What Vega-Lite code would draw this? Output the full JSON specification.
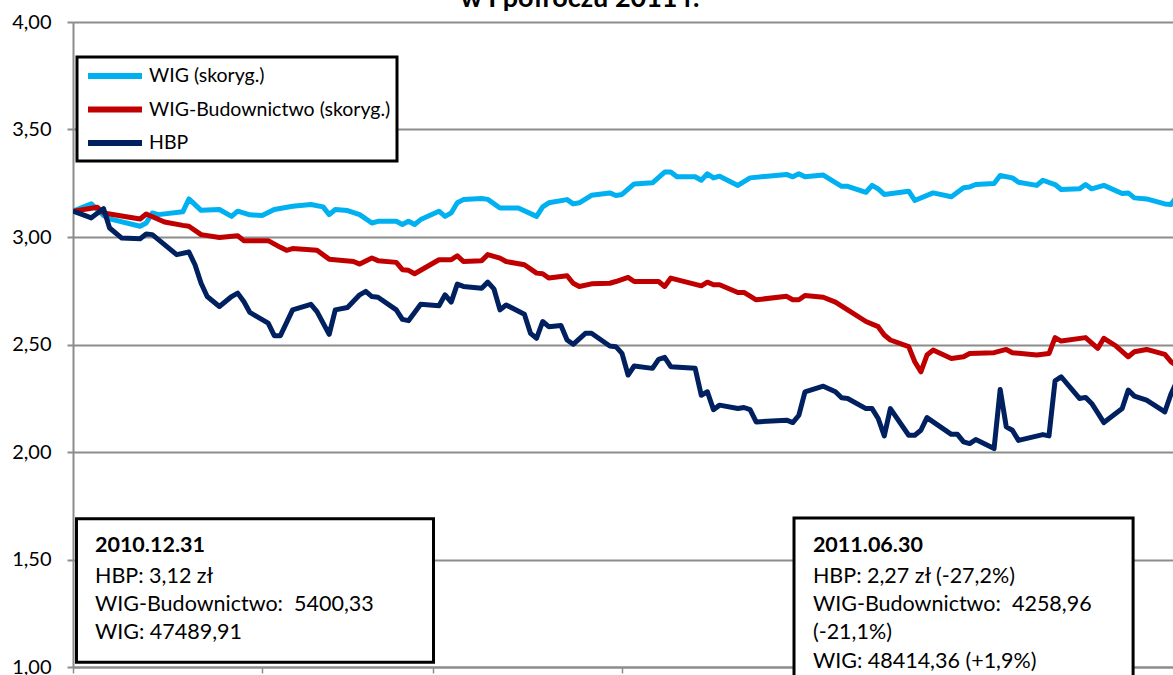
{
  "$schema": "https://vega.github.io/schema/vega-lite/v6.json",
  "width": 1100,
  "height": 645,
  "autosize": {"type": "none"},
  "padding": {"left": 73, "top": 22, "right": 0, "bottom": 8},
  "background": "white",
  "title": {"text": "w I półroczu 2011 r.", "font": "Lato", "fontSize": 27, "fontWeight": "bold", "color": "black", "anchor": "middle", "dx": -43, "offset": -22, "baseline": "alphabetic"},
  "config": {"view": {"stroke": null}, "font": "Lato", "legend": {"strokeWidth": 3}},
  "datasets": {
    "series": [
      {"t":"2010-12-31","s":"WIG (skoryg.)","v":3.12},
      {"t":"2011-01-03","s":"WIG (skoryg.)","v":3.154},
      {"t":"2011-01-05","s":"WIG (skoryg.)","v":3.10},
      {"t":"2011-01-06","s":"WIG (skoryg.)","v":3.084},
      {"t":"2011-01-11","s":"WIG (skoryg.)","v":3.05},
      {"t":"2011-01-12","s":"WIG (skoryg.)","v":3.065},
      {"t":"2011-01-13","s":"WIG (skoryg.)","v":3.112},
      {"t":"2011-01-14","s":"WIG (skoryg.)","v":3.104},
      {"t":"2011-01-18","s":"WIG (skoryg.)","v":3.117},
      {"t":"2011-01-19","s":"WIG (skoryg.)","v":3.177},
      {"t":"2011-01-21","s":"WIG (skoryg.)","v":3.124},
      {"t":"2011-01-24","s":"WIG (skoryg.)","v":3.128},
      {"t":"2011-01-26","s":"WIG (skoryg.)","v":3.096},
      {"t":"2011-01-27","s":"WIG (skoryg.)","v":3.12},
      {"t":"2011-01-29","s":"WIG (skoryg.)","v":3.103},
      {"t":"2011-01-31","s":"WIG (skoryg.)","v":3.10},
      {"t":"2011-02-02","s":"WIG (skoryg.)","v":3.128},
      {"t":"2011-02-05","s":"WIG (skoryg.)","v":3.143},
      {"t":"2011-02-08","s":"WIG (skoryg.)","v":3.151},
      {"t":"2011-02-10","s":"WIG (skoryg.)","v":3.14},
      {"t":"2011-02-11","s":"WIG (skoryg.)","v":3.104},
      {"t":"2011-02-12","s":"WIG (skoryg.)","v":3.128},
      {"t":"2011-02-14","s":"WIG (skoryg.)","v":3.123},
      {"t":"2011-02-16","s":"WIG (skoryg.)","v":3.104},
      {"t":"2011-02-18","s":"WIG (skoryg.)","v":3.065},
      {"t":"2011-02-19","s":"WIG (skoryg.)","v":3.073},
      {"t":"2011-02-22","s":"WIG (skoryg.)","v":3.073},
      {"t":"2011-02-23","s":"WIG (skoryg.)","v":3.058},
      {"t":"2011-02-24","s":"WIG (skoryg.)","v":3.073},
      {"t":"2011-02-25","s":"WIG (skoryg.)","v":3.058},
      {"t":"2011-02-26","s":"WIG (skoryg.)","v":3.081},
      {"t":"2011-03-01","s":"WIG (skoryg.)","v":3.12},
      {"t":"2011-03-02","s":"WIG (skoryg.)","v":3.096},
      {"t":"2011-03-03","s":"WIG (skoryg.)","v":3.112},
      {"t":"2011-03-04","s":"WIG (skoryg.)","v":3.159},
      {"t":"2011-03-05","s":"WIG (skoryg.)","v":3.174},
      {"t":"2011-03-08","s":"WIG (skoryg.)","v":3.179},
      {"t":"2011-03-09","s":"WIG (skoryg.)","v":3.175},
      {"t":"2011-03-11","s":"WIG (skoryg.)","v":3.135},
      {"t":"2011-03-14","s":"WIG (skoryg.)","v":3.135},
      {"t":"2011-03-17","s":"WIG (skoryg.)","v":3.096},
      {"t":"2011-03-18","s":"WIG (skoryg.)","v":3.14},
      {"t":"2011-03-19","s":"WIG (skoryg.)","v":3.159},
      {"t":"2011-03-22","s":"WIG (skoryg.)","v":3.174},
      {"t":"2011-03-23","s":"WIG (skoryg.)","v":3.154},
      {"t":"2011-03-24","s":"WIG (skoryg.)","v":3.159},
      {"t":"2011-03-26","s":"WIG (skoryg.)","v":3.194},
      {"t":"2011-03-29","s":"WIG (skoryg.)","v":3.205},
      {"t":"2011-03-30","s":"WIG (skoryg.)","v":3.193},
      {"t":"2011-03-31","s":"WIG (skoryg.)","v":3.198},
      {"t":"2011-04-02","s":"WIG (skoryg.)","v":3.247},
      {"t":"2011-04-05","s":"WIG (skoryg.)","v":3.252},
      {"t":"2011-04-07","s":"WIG (skoryg.)","v":3.302},
      {"t":"2011-04-08","s":"WIG (skoryg.)","v":3.302},
      {"t":"2011-04-09","s":"WIG (skoryg.)","v":3.28},
      {"t":"2011-04-12","s":"WIG (skoryg.)","v":3.28},
      {"t":"2011-04-13","s":"WIG (skoryg.)","v":3.264},
      {"t":"2011-04-14","s":"WIG (skoryg.)","v":3.294},
      {"t":"2011-04-15","s":"WIG (skoryg.)","v":3.275},
      {"t":"2011-04-16","s":"WIG (skoryg.)","v":3.283},
      {"t":"2011-04-19","s":"WIG (skoryg.)","v":3.24},
      {"t":"2011-04-21","s":"WIG (skoryg.)","v":3.275},
      {"t":"2011-04-27","s":"WIG (skoryg.)","v":3.291},
      {"t":"2011-04-28","s":"WIG (skoryg.)","v":3.28},
      {"t":"2011-04-29","s":"WIG (skoryg.)","v":3.294},
      {"t":"2011-04-30","s":"WIG (skoryg.)","v":3.28},
      {"t":"2011-05-03","s":"WIG (skoryg.)","v":3.288},
      {"t":"2011-05-06","s":"WIG (skoryg.)","v":3.236},
      {"t":"2011-05-07","s":"WIG (skoryg.)","v":3.236},
      {"t":"2011-05-10","s":"WIG (skoryg.)","v":3.208},
      {"t":"2011-05-11","s":"WIG (skoryg.)","v":3.24},
      {"t":"2011-05-12","s":"WIG (skoryg.)","v":3.224},
      {"t":"2011-05-13","s":"WIG (skoryg.)","v":3.198},
      {"t":"2011-05-17","s":"WIG (skoryg.)","v":3.213},
      {"t":"2011-05-18","s":"WIG (skoryg.)","v":3.17},
      {"t":"2011-05-21","s":"WIG (skoryg.)","v":3.205},
      {"t":"2011-05-24","s":"WIG (skoryg.)","v":3.187},
      {"t":"2011-05-26","s":"WIG (skoryg.)","v":3.229},
      {"t":"2011-05-27","s":"WIG (skoryg.)","v":3.233},
      {"t":"2011-05-28","s":"WIG (skoryg.)","v":3.244},
      {"t":"2011-05-31","s":"WIG (skoryg.)","v":3.249},
      {"t":"2011-06-01","s":"WIG (skoryg.)","v":3.286},
      {"t":"2011-06-03","s":"WIG (skoryg.)","v":3.275},
      {"t":"2011-06-04","s":"WIG (skoryg.)","v":3.255},
      {"t":"2011-06-07","s":"WIG (skoryg.)","v":3.24},
      {"t":"2011-06-08","s":"WIG (skoryg.)","v":3.264},
      {"t":"2011-06-10","s":"WIG (skoryg.)","v":3.244},
      {"t":"2011-06-11","s":"WIG (skoryg.)","v":3.221},
      {"t":"2011-06-14","s":"WIG (skoryg.)","v":3.224},
      {"t":"2011-06-15","s":"WIG (skoryg.)","v":3.244},
      {"t":"2011-06-16","s":"WIG (skoryg.)","v":3.224},
      {"t":"2011-06-18","s":"WIG (skoryg.)","v":3.24},
      {"t":"2011-06-21","s":"WIG (skoryg.)","v":3.202},
      {"t":"2011-06-22","s":"WIG (skoryg.)","v":3.205},
      {"t":"2011-06-23","s":"WIG (skoryg.)","v":3.182},
      {"t":"2011-06-25","s":"WIG (skoryg.)","v":3.177},
      {"t":"2011-06-28","s":"WIG (skoryg.)","v":3.154},
      {"t":"2011-06-29","s":"WIG (skoryg.)","v":3.151},
      {"t":"2011-06-30","s":"WIG (skoryg.)","v":3.19},

      {"t":"2010-12-31","s":"WIG-Budownictwo (skoryg.)","v":3.12},
      {"t":"2011-01-04","s":"WIG-Budownictwo (skoryg.)","v":3.138},
      {"t":"2011-01-05","s":"WIG-Budownictwo (skoryg.)","v":3.112},
      {"t":"2011-01-11","s":"WIG-Budownictwo (skoryg.)","v":3.084},
      {"t":"2011-01-12","s":"WIG-Budownictwo (skoryg.)","v":3.107},
      {"t":"2011-01-15","s":"WIG-Budownictwo (skoryg.)","v":3.07},
      {"t":"2011-01-18","s":"WIG-Budownictwo (skoryg.)","v":3.054},
      {"t":"2011-01-19","s":"WIG-Budownictwo (skoryg.)","v":3.05},
      {"t":"2011-01-21","s":"WIG-Budownictwo (skoryg.)","v":3.011},
      {"t":"2011-01-24","s":"WIG-Budownictwo (skoryg.)","v":2.998},
      {"t":"2011-01-27","s":"WIG-Budownictwo (skoryg.)","v":3.006},
      {"t":"2011-01-28","s":"WIG-Budownictwo (skoryg.)","v":2.983},
      {"t":"2011-02-01","s":"WIG-Budownictwo (skoryg.)","v":2.983},
      {"t":"2011-02-03","s":"WIG-Budownictwo (skoryg.)","v":2.952},
      {"t":"2011-02-04","s":"WIG-Budownictwo (skoryg.)","v":2.938},
      {"t":"2011-02-05","s":"WIG-Budownictwo (skoryg.)","v":2.946},
      {"t":"2011-02-09","s":"WIG-Budownictwo (skoryg.)","v":2.938},
      {"t":"2011-02-11","s":"WIG-Budownictwo (skoryg.)","v":2.897},
      {"t":"2011-02-15","s":"WIG-Budownictwo (skoryg.)","v":2.886},
      {"t":"2011-02-16","s":"WIG-Budownictwo (skoryg.)","v":2.874},
      {"t":"2011-02-18","s":"WIG-Budownictwo (skoryg.)","v":2.902},
      {"t":"2011-02-19","s":"WIG-Budownictwo (skoryg.)","v":2.89},
      {"t":"2011-02-22","s":"WIG-Budownictwo (skoryg.)","v":2.882},
      {"t":"2011-02-23","s":"WIG-Budownictwo (skoryg.)","v":2.848},
      {"t":"2011-02-24","s":"WIG-Budownictwo (skoryg.)","v":2.845},
      {"t":"2011-02-25","s":"WIG-Budownictwo (skoryg.)","v":2.829},
      {"t":"2011-03-01","s":"WIG-Budownictwo (skoryg.)","v":2.894},
      {"t":"2011-03-03","s":"WIG-Budownictwo (skoryg.)","v":2.894},
      {"t":"2011-03-04","s":"WIG-Budownictwo (skoryg.)","v":2.913},
      {"t":"2011-03-05","s":"WIG-Budownictwo (skoryg.)","v":2.886},
      {"t":"2011-03-08","s":"WIG-Budownictwo (skoryg.)","v":2.89},
      {"t":"2011-03-09","s":"WIG-Budownictwo (skoryg.)","v":2.918},
      {"t":"2011-03-11","s":"WIG-Budownictwo (skoryg.)","v":2.902},
      {"t":"2011-03-12","s":"WIG-Budownictwo (skoryg.)","v":2.886},
      {"t":"2011-03-15","s":"WIG-Budownictwo (skoryg.)","v":2.871},
      {"t":"2011-03-17","s":"WIG-Budownictwo (skoryg.)","v":2.832},
      {"t":"2011-03-18","s":"WIG-Budownictwo (skoryg.)","v":2.829},
      {"t":"2011-03-19","s":"WIG-Budownictwo (skoryg.)","v":2.809},
      {"t":"2011-03-22","s":"WIG-Budownictwo (skoryg.)","v":2.82},
      {"t":"2011-03-23","s":"WIG-Budownictwo (skoryg.)","v":2.785},
      {"t":"2011-03-24","s":"WIG-Budownictwo (skoryg.)","v":2.77},
      {"t":"2011-03-26","s":"WIG-Budownictwo (skoryg.)","v":2.782},
      {"t":"2011-03-29","s":"WIG-Budownictwo (skoryg.)","v":2.785},
      {"t":"2011-03-30","s":"WIG-Budownictwo (skoryg.)","v":2.793},
      {"t":"2011-04-01","s":"WIG-Budownictwo (skoryg.)","v":2.812},
      {"t":"2011-04-02","s":"WIG-Budownictwo (skoryg.)","v":2.793},
      {"t":"2011-04-06","s":"WIG-Budownictwo (skoryg.)","v":2.793},
      {"t":"2011-04-07","s":"WIG-Budownictwo (skoryg.)","v":2.77},
      {"t":"2011-04-08","s":"WIG-Budownictwo (skoryg.)","v":2.809},
      {"t":"2011-04-13","s":"WIG-Budownictwo (skoryg.)","v":2.773},
      {"t":"2011-04-14","s":"WIG-Budownictwo (skoryg.)","v":2.79},
      {"t":"2011-04-15","s":"WIG-Budownictwo (skoryg.)","v":2.778},
      {"t":"2011-04-16","s":"WIG-Budownictwo (skoryg.)","v":2.778},
      {"t":"2011-04-19","s":"WIG-Budownictwo (skoryg.)","v":2.742},
      {"t":"2011-04-20","s":"WIG-Budownictwo (skoryg.)","v":2.742},
      {"t":"2011-04-22","s":"WIG-Budownictwo (skoryg.)","v":2.708},
      {"t":"2011-04-27","s":"WIG-Budownictwo (skoryg.)","v":2.724},
      {"t":"2011-04-28","s":"WIG-Budownictwo (skoryg.)","v":2.708},
      {"t":"2011-04-29","s":"WIG-Budownictwo (skoryg.)","v":2.708},
      {"t":"2011-04-30","s":"WIG-Budownictwo (skoryg.)","v":2.728},
      {"t":"2011-05-03","s":"WIG-Budownictwo (skoryg.)","v":2.72},
      {"t":"2011-05-05","s":"WIG-Budownictwo (skoryg.)","v":2.697},
      {"t":"2011-05-07","s":"WIG-Budownictwo (skoryg.)","v":2.661},
      {"t":"2011-05-10","s":"WIG-Budownictwo (skoryg.)","v":2.607},
      {"t":"2011-05-12","s":"WIG-Budownictwo (skoryg.)","v":2.583},
      {"t":"2011-05-13","s":"WIG-Budownictwo (skoryg.)","v":2.544},
      {"t":"2011-05-14","s":"WIG-Budownictwo (skoryg.)","v":2.521},
      {"t":"2011-05-17","s":"WIG-Budownictwo (skoryg.)","v":2.49},
      {"t":"2011-05-18","s":"WIG-Budownictwo (skoryg.)","v":2.42},
      {"t":"2011-05-19","s":"WIG-Budownictwo (skoryg.)","v":2.373},
      {"t":"2011-05-20","s":"WIG-Budownictwo (skoryg.)","v":2.451},
      {"t":"2011-05-21","s":"WIG-Budownictwo (skoryg.)","v":2.474},
      {"t":"2011-05-24","s":"WIG-Budownictwo (skoryg.)","v":2.435},
      {"t":"2011-05-26","s":"WIG-Budownictwo (skoryg.)","v":2.443},
      {"t":"2011-05-27","s":"WIG-Budownictwo (skoryg.)","v":2.458},
      {"t":"2011-05-31","s":"WIG-Budownictwo (skoryg.)","v":2.462},
      {"t":"2011-06-02","s":"WIG-Budownictwo (skoryg.)","v":2.477},
      {"t":"2011-06-03","s":"WIG-Budownictwo (skoryg.)","v":2.462},
      {"t":"2011-06-07","s":"WIG-Budownictwo (skoryg.)","v":2.451},
      {"t":"2011-06-09","s":"WIG-Budownictwo (skoryg.)","v":2.458},
      {"t":"2011-06-10","s":"WIG-Budownictwo (skoryg.)","v":2.532},
      {"t":"2011-06-11","s":"WIG-Budownictwo (skoryg.)","v":2.516},
      {"t":"2011-06-15","s":"WIG-Budownictwo (skoryg.)","v":2.532},
      {"t":"2011-06-17","s":"WIG-Budownictwo (skoryg.)","v":2.482},
      {"t":"2011-06-18","s":"WIG-Budownictwo (skoryg.)","v":2.529},
      {"t":"2011-06-20","s":"WIG-Budownictwo (skoryg.)","v":2.493},
      {"t":"2011-06-22","s":"WIG-Budownictwo (skoryg.)","v":2.443},
      {"t":"2011-06-23","s":"WIG-Budownictwo (skoryg.)","v":2.466},
      {"t":"2011-06-25","s":"WIG-Budownictwo (skoryg.)","v":2.477},
      {"t":"2011-06-28","s":"WIG-Budownictwo (skoryg.)","v":2.454},
      {"t":"2011-06-29","s":"WIG-Budownictwo (skoryg.)","v":2.42},
      {"t":"2011-06-30","s":"WIG-Budownictwo (skoryg.)","v":2.40},

      {"t":"2010-12-31","s":"HBP","v":3.12},
      {"t":"2011-01-03","s":"HBP","v":3.089},
      {"t":"2011-01-05","s":"HBP","v":3.132},
      {"t":"2011-01-06","s":"HBP","v":3.042},
      {"t":"2011-01-08","s":"HBP","v":2.995},
      {"t":"2011-01-11","s":"HBP","v":2.992},
      {"t":"2011-01-12","s":"HBP","v":3.014},
      {"t":"2011-01-13","s":"HBP","v":3.011},
      {"t":"2011-01-14","s":"HBP","v":2.988},
      {"t":"2011-01-17","s":"HBP","v":2.918},
      {"t":"2011-01-19","s":"HBP","v":2.93},
      {"t":"2011-01-20","s":"HBP","v":2.871},
      {"t":"2011-01-21","s":"HBP","v":2.785},
      {"t":"2011-01-22","s":"HBP","v":2.723},
      {"t":"2011-01-24","s":"HBP","v":2.677},
      {"t":"2011-01-26","s":"HBP","v":2.723},
      {"t":"2011-01-27","s":"HBP","v":2.739},
      {"t":"2011-01-28","s":"HBP","v":2.70},
      {"t":"2011-01-29","s":"HBP","v":2.649},
      {"t":"2011-02-01","s":"HBP","v":2.599},
      {"t":"2011-02-02","s":"HBP","v":2.541},
      {"t":"2011-02-03","s":"HBP","v":2.541},
      {"t":"2011-02-05","s":"HBP","v":2.661},
      {"t":"2011-02-08","s":"HBP","v":2.687},
      {"t":"2011-02-09","s":"HBP","v":2.653},
      {"t":"2011-02-11","s":"HBP","v":2.547},
      {"t":"2011-02-12","s":"HBP","v":2.661},
      {"t":"2011-02-14","s":"HBP","v":2.672},
      {"t":"2011-02-16","s":"HBP","v":2.731},
      {"t":"2011-02-17","s":"HBP","v":2.747},
      {"t":"2011-02-18","s":"HBP","v":2.723},
      {"t":"2011-02-19","s":"HBP","v":2.72},
      {"t":"2011-02-22","s":"HBP","v":2.661},
      {"t":"2011-02-23","s":"HBP","v":2.617},
      {"t":"2011-02-24","s":"HBP","v":2.611},
      {"t":"2011-02-26","s":"HBP","v":2.687},
      {"t":"2011-03-01","s":"HBP","v":2.68},
      {"t":"2011-03-02","s":"HBP","v":2.731},
      {"t":"2011-03-03","s":"HBP","v":2.697},
      {"t":"2011-03-04","s":"HBP","v":2.781},
      {"t":"2011-03-05","s":"HBP","v":2.77},
      {"t":"2011-03-08","s":"HBP","v":2.762},
      {"t":"2011-03-09","s":"HBP","v":2.79},
      {"t":"2011-03-10","s":"HBP","v":2.759},
      {"t":"2011-03-11","s":"HBP","v":2.661},
      {"t":"2011-03-12","s":"HBP","v":2.684},
      {"t":"2011-03-15","s":"HBP","v":2.641},
      {"t":"2011-03-16","s":"HBP","v":2.552},
      {"t":"2011-03-17","s":"HBP","v":2.529},
      {"t":"2011-03-18","s":"HBP","v":2.607},
      {"t":"2011-03-19","s":"HBP","v":2.583},
      {"t":"2011-03-21","s":"HBP","v":2.588},
      {"t":"2011-03-22","s":"HBP","v":2.521},
      {"t":"2011-03-23","s":"HBP","v":2.501},
      {"t":"2011-03-25","s":"HBP","v":2.552},
      {"t":"2011-03-26","s":"HBP","v":2.552},
      {"t":"2011-03-29","s":"HBP","v":2.493},
      {"t":"2011-03-30","s":"HBP","v":2.49},
      {"t":"2011-03-31","s":"HBP","v":2.459},
      {"t":"2011-04-01","s":"HBP","v":2.358},
      {"t":"2011-04-02","s":"HBP","v":2.40},
      {"t":"2011-04-05","s":"HBP","v":2.389},
      {"t":"2011-04-06","s":"HBP","v":2.431},
      {"t":"2011-04-07","s":"HBP","v":2.44},
      {"t":"2011-04-08","s":"HBP","v":2.397},
      {"t":"2011-04-12","s":"HBP","v":2.389},
      {"t":"2011-04-13","s":"HBP","v":2.264},
      {"t":"2011-04-14","s":"HBP","v":2.28},
      {"t":"2011-04-15","s":"HBP","v":2.197},
      {"t":"2011-04-16","s":"HBP","v":2.218},
      {"t":"2011-04-19","s":"HBP","v":2.202},
      {"t":"2011-04-20","s":"HBP","v":2.207},
      {"t":"2011-04-21","s":"HBP","v":2.197},
      {"t":"2011-04-22","s":"HBP","v":2.14},
      {"t":"2011-04-27","s":"HBP","v":2.148},
      {"t":"2011-04-28","s":"HBP","v":2.137},
      {"t":"2011-04-29","s":"HBP","v":2.171},
      {"t":"2011-04-30","s":"HBP","v":2.28},
      {"t":"2011-05-03","s":"HBP","v":2.306},
      {"t":"2011-05-05","s":"HBP","v":2.28},
      {"t":"2011-05-06","s":"HBP","v":2.252},
      {"t":"2011-05-07","s":"HBP","v":2.249},
      {"t":"2011-05-10","s":"HBP","v":2.202},
      {"t":"2011-05-11","s":"HBP","v":2.202},
      {"t":"2011-05-12","s":"HBP","v":2.156},
      {"t":"2011-05-13","s":"HBP","v":2.075},
      {"t":"2011-05-14","s":"HBP","v":2.202},
      {"t":"2011-05-17","s":"HBP","v":2.078},
      {"t":"2011-05-18","s":"HBP","v":2.078},
      {"t":"2011-05-19","s":"HBP","v":2.101},
      {"t":"2011-05-20","s":"HBP","v":2.16},
      {"t":"2011-05-24","s":"HBP","v":2.082},
      {"t":"2011-05-25","s":"HBP","v":2.082},
      {"t":"2011-05-26","s":"HBP","v":2.047},
      {"t":"2011-05-27","s":"HBP","v":2.039},
      {"t":"2011-05-28","s":"HBP","v":2.058},
      {"t":"2011-05-31","s":"HBP","v":2.016},
      {"t":"2011-06-01","s":"HBP","v":2.291},
      {"t":"2011-06-02","s":"HBP","v":2.117},
      {"t":"2011-06-03","s":"HBP","v":2.101},
      {"t":"2011-06-04","s":"HBP","v":2.054},
      {"t":"2011-06-08","s":"HBP","v":2.081},
      {"t":"2011-06-09","s":"HBP","v":2.075},
      {"t":"2011-06-10","s":"HBP","v":2.331},
      {"t":"2011-06-11","s":"HBP","v":2.35},
      {"t":"2011-06-14","s":"HBP","v":2.249},
      {"t":"2011-06-15","s":"HBP","v":2.254},
      {"t":"2011-06-16","s":"HBP","v":2.226},
      {"t":"2011-06-17","s":"HBP","v":2.182},
      {"t":"2011-06-18","s":"HBP","v":2.137},
      {"t":"2011-06-21","s":"HBP","v":2.202},
      {"t":"2011-06-22","s":"HBP","v":2.288},
      {"t":"2011-06-23","s":"HBP","v":2.26},
      {"t":"2011-06-25","s":"HBP","v":2.241},
      {"t":"2011-06-28","s":"HBP","v":2.187},
      {"t":"2011-06-29","s":"HBP","v":2.27},
      {"t":"2011-06-30","s":"HBP","v":2.33}
    ],
    "boxes": [
      {"x1":"2010-12-31T13:40:00Z","x2":"2011-02-28T02:25:00Z","y1":1.69,"y2":1.022},
      {"x1":"2011-04-28T04:50:00Z","x2":"2011-06-22T19:00:00Z","y1":1.693,"y2":0.9}
    ],
    "notes": [
      {"t":"2011-01-03T14:25:00Z","v":1.563,"txt":"2010.12.31","b":1},
      {"t":"2011-01-03T14:25:00Z","v":1.419,"txt":"HBP: 3,12 zł","b":0},
      {"t":"2011-01-03T14:25:00Z","v":1.288,"txt":"WIG-Budownictwo: \u00a05400,33","b":0},
      {"t":"2011-01-03T14:25:00Z","v":1.156,"txt":"WIG: 47489,91","b":0},
      {"t":"2011-05-01T07:10:00Z","v":1.563,"txt":"2011.06.30","b":1},
      {"t":"2011-05-01T07:10:00Z","v":1.419,"txt":"HBP: 2,27 zł (-27,2%)","b":0},
      {"t":"2011-05-01T07:10:00Z","v":1.288,"txt":"WIG-Budownictwo: \u00a04258,96","b":0},
      {"t":"2011-05-01T07:10:00Z","v":1.156,"txt":"(-21,1%)","b":0},
      {"t":"2011-05-01T07:10:00Z","v":1.023,"txt":"WIG: 48414,36 (+1,9%)","b":0}
    ]
  },
  "layer": [
    {
      "data": {"name": "series"},
      "mark": {"type": "line", "strokeWidth": 5, "clip": true, "strokeJoin": "round"},
      "encoding": {
        "x": {
          "field": "t", "type": "temporal",
          "scale": {"type": "utc", "domain": [{"year": 2010, "month": 12, "date": 31, "utc": true}, {"year": 2011, "month": 6, "date": 29, "hours": 8, "utc": true}], "nice": false},
          "axis": {"title": null, "labels": false, "grid": false, "ticks": true, "tickSize": 6, "tickColor": "#8c8c8c", "tickWidth": 1.5, "domainColor": "#8c8c8c", "domainWidth": 2,
            "values": [
              {"year": 2010, "month": 12, "date": 31, "utc": true},
              {"year": 2011, "month": 1, "date": 31, "utc": true},
              {"year": 2011, "month": 2, "date": 28, "utc": true},
              {"year": 2011, "month": 3, "date": 31, "utc": true},
              {"year": 2011, "month": 4, "date": 30, "utc": true},
              {"year": 2011, "month": 5, "date": 31, "utc": true}
            ]}
        },
        "y": {
          "field": "v", "type": "quantitative",
          "scale": {"domain": [1, 4], "nice": false, "zero": false},
          "axis": {"title": null, "values": [1, 1.5, 2, 2.5, 3, 3.5, 4], "labelExpr": "replace(format(datum.value, '.2f'), '.', ',')",
            "grid": true, "gridColor": "#8c8c8c", "gridWidth": 2, "domainColor": "#8c8c8c", "domainWidth": 2,
            "tickColor": "#8c8c8c", "tickWidth": 2, "tickSize": 6, "labelFont": "Lato", "labelFontSize": 20, "labelColor": "black", "labelPadding": 16}
        },
        "color": {
          "field": "s", "type": "nominal",
          "scale": {"domain": ["WIG (skoryg.)", "WIG-Budownictwo (skoryg.)", "HBP"], "range": ["#00B0F0", "#C00000", "#002060"]},
          "legend": {"orient": "none", "legendX": 4, "legendY": 35, "title": null, "fillColor": "white", "strokeColor": "black", "padding": 6,
            "symbolType": "M-0.8,0H4.6", "symbolStrokeWidth": 6, "symbolSize": 400, "labelFont": "Lato", "labelFontSize": 19.5, "labelColor": "black", "labelOffset": 40, "labelLimit": 400, "rowPadding": 8.5}
        }
      }
    },
    {
      "data": {"name": "boxes"},
      "mark": {"type": "rect", "fill": "white", "stroke": "black", "strokeWidth": 3},
      "encoding": {
        "x": {"field": "x1", "type": "temporal"},
        "x2": {"field": "x2"},
        "y": {"field": "y1", "type": "quantitative"},
        "y2": {"field": "y2"}
      }
    },
    {
      "data": {"name": "notes"},
      "transform": [{"filter": "datum.b == 1"}],
      "mark": {"type": "text", "align": "left", "baseline": "middle", "font": "Lato", "fontSize": 21.5, "fontWeight": "bold", "color": "black"},
      "encoding": {
        "x": {"field": "t", "type": "temporal"},
        "y": {"field": "v", "type": "quantitative"},
        "text": {"field": "txt"}
      }
    },
    {
      "data": {"name": "notes"},
      "transform": [{"filter": "datum.b == 0"}],
      "mark": {"type": "text", "align": "left", "baseline": "middle", "font": "Lato", "fontSize": 21.5, "color": "black"},
      "encoding": {
        "x": {"field": "t", "type": "temporal"},
        "y": {"field": "v", "type": "quantitative"},
        "text": {"field": "txt"}
      }
    }
  ]
}
